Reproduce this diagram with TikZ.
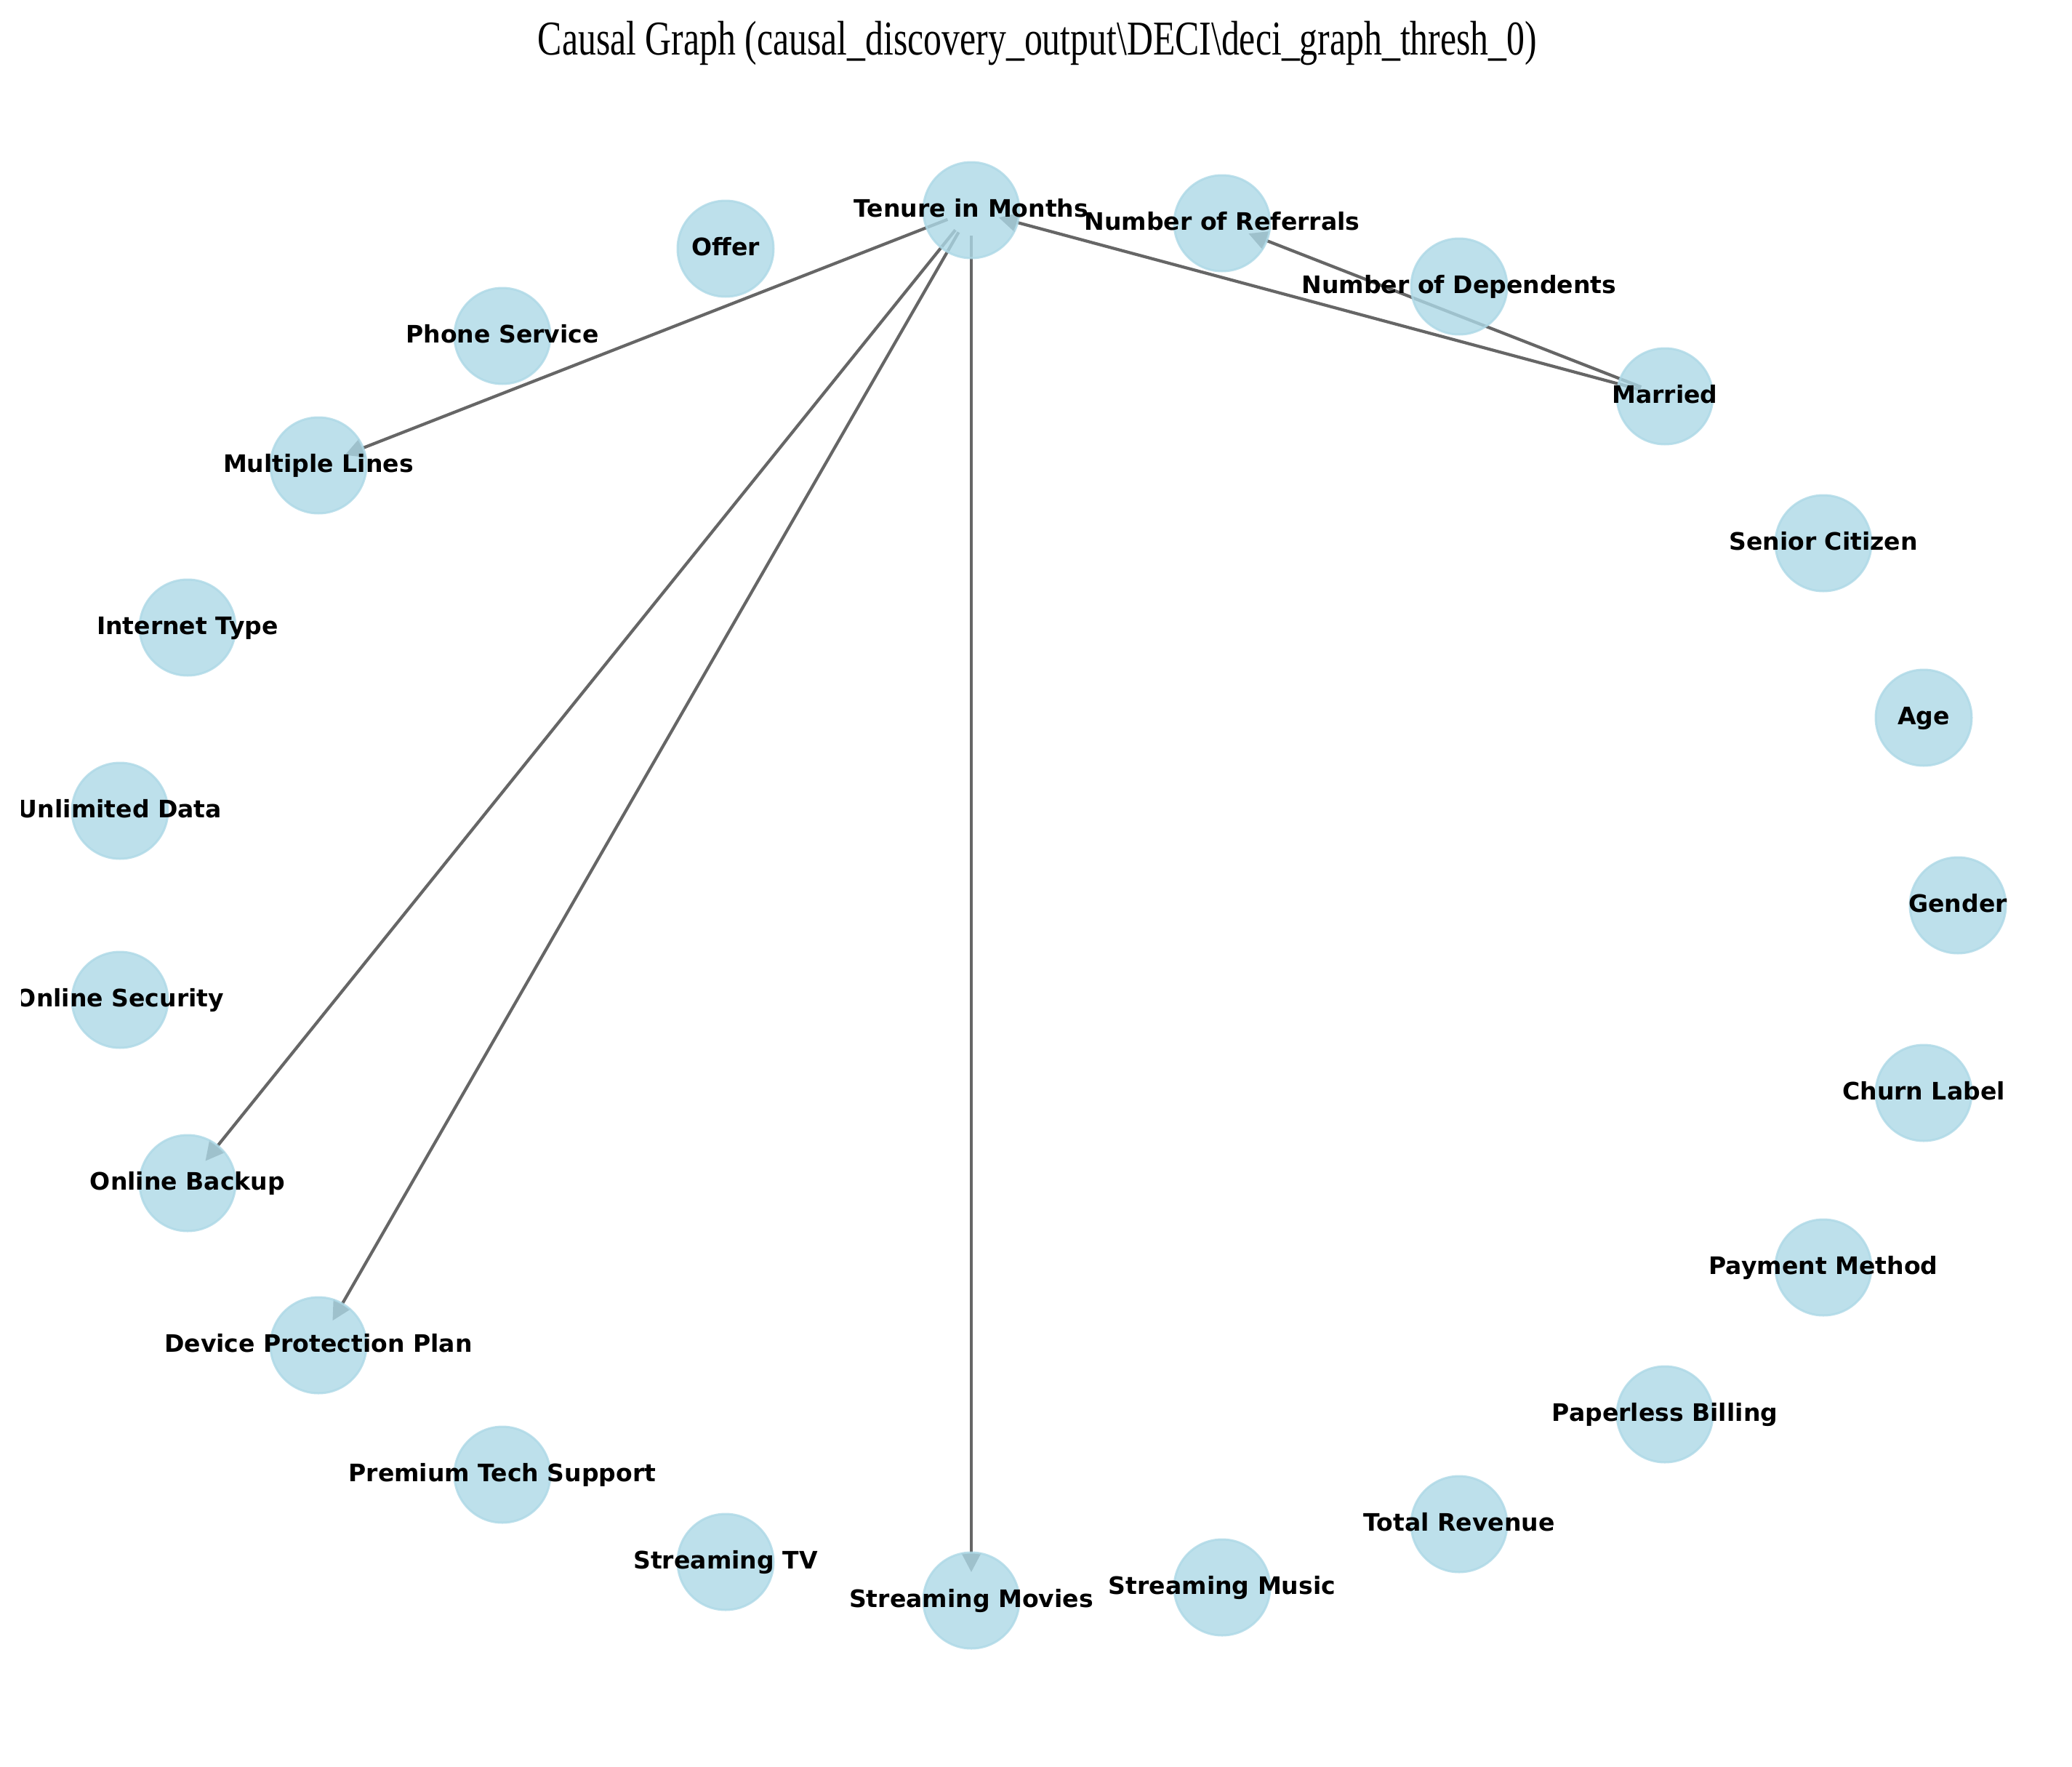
\documentclass[tikz,border=0pt]{standalone}
\usepackage{fontspec}
\usetikzlibrary{arrows.meta}
\newfontfamily\lblfont{DejaVu Sans}
\newfontfamily\ttlfont[FakeStretch=0.745]{Liberation Serif}

\newlength{\du}
\setlength{\du}{0.01cm}

\definecolor{nodeblue}{RGB}{173,216,230}
\definecolor{edgegray}{RGB}{102,102,102}

\pgfdeclarelayer{edgelayer}
\pgfsetlayers{edgelayer,main}

\tikzset{
  vnode/.style={circle, inner sep=0pt, minimum size=132\du,
    fill=nodeblue, draw=nodeblue, fill opacity=0.8, draw opacity=0.8,
    line width=3\du},
  vlabel/.style={font=\lblfont\bfseries\fontsize{9.4pt}{11pt}\selectfont,
    inner sep=0pt, text height=25\du, text depth=7\du, anchor=center},
  causaledge/.style={draw=edgegray, line width=0.042cm,
    shorten <=0.35cm, shorten >=0.39cm,
    -{Triangle[length=0.26cm,width=0.26cm]}},
  ttl/.style={font=\ttlfont\fontsize{19pt}{22pt}\selectfont,
    inner sep=0pt, anchor=base}
}

\begin{document}
\begin{tikzpicture}[yscale=-1]
\useasboundingbox (0,0) rectangle (2850\du,2430\du);

% title
\node[ttl] (title) at (1427\du,75\du)
  {Causal Graph (causal\_discovery\_output\textbackslash DECI\textbackslash deci\_graph\_thresh\_0)};

% nodes on the circle
\node[vnode] (gender) at (2693\du,1245\du) {};
\node[vnode] (age) at (2646\du,987\du) {};
\node[vnode] (senior) at (2508\du,747\du) {};
\node[vnode] (married) at (2290\du,545\du) {};
\node[vnode] (dependents) at (2007\du,394\du) {};
\node[vnode] (referrals) at (1681\du,307\du) {};
\node[vnode] (tenure) at (1336\du,289\du) {};
\node[vnode] (offer) at (998\du,342\du) {};
\node[vnode] (phone) at (691\du,462\du) {};
\node[vnode] (multilines) at (438\du,640\du) {};
\node[vnode] (internet) at (258\du,863\du) {};
\node[vnode] (unlimited) at (165\du,1115\du) {};
\node[vnode] (security) at (165\du,1375\du) {};
\node[vnode] (backup) at (258\du,1627\du) {};
\node[vnode] (protection) at (438\du,1850\du) {};
\node[vnode] (techsupport) at (691\du,2028\du) {};
\node[vnode] (streamtv) at (998\du,2148\du) {};
\node[vnode] (streammovies) at (1336\du,2201\du) {};
\node[vnode] (streammusic) at (1681\du,2183\du) {};
\node[vnode] (revenue) at (2007\du,2096\du) {};
\node[vnode] (paperless) at (2290\du,1945\du) {};
\node[vnode] (payment) at (2508\du,1743\du) {};
\node[vnode] (churn) at (2646\du,1503\du) {};

% edges, under the nodes
\begin{pgfonlayer}{edgelayer}
\draw[causaledge] (tenure.center) -- (multilines.center);
\draw[causaledge] (tenure.center) -- (backup.center);
\draw[causaledge] (tenure.center) -- (protection.center);
\draw[causaledge] (tenure.center) -- (streammovies.center);
\draw[causaledge] (married.center) -- (tenure.center);
\draw[causaledge] (married.center) -- (referrals.center);
\end{pgfonlayer}

% labels, clipped at the axes edge
\begin{scope}
\clip (29\du,0) rectangle (2821\du,2430\du);
\node[vlabel] (gender-l) at (gender.center) {Gender};
\node[vlabel] (age-l) at (age.center) {Age};
\node[vlabel] (senior-l) at (senior.center) {Senior Citizen};
\node[vlabel] (married-l) at (married.center) {Married};
\node[vlabel] (dependents-l) at (dependents.center) {Number of Dependents};
\node[vlabel] (referrals-l) at (referrals.center) {Number of Referrals};
\node[vlabel] (tenure-l) at (tenure.center) {Tenure in Months};
\node[vlabel] (offer-l) at (offer.center) {Offer};
\node[vlabel] (phone-l) at (phone.center) {Phone Service};
\node[vlabel] (multilines-l) at (multilines.center) {Multiple Lines};
\node[vlabel] (internet-l) at (internet.center) {Internet Type};
\node[vlabel] (unlimited-l) at (unlimited.center) {Unlimited Data};
\node[vlabel] (security-l) at (security.center) {Online Security};
\node[vlabel] (backup-l) at (backup.center) {Online Backup};
\node[vlabel] (protection-l) at (protection.center) {Device Protection Plan};
\node[vlabel] (techsupport-l) at (techsupport.center) {Premium Tech Support};
\node[vlabel] (streamtv-l) at (streamtv.center) {Streaming TV};
\node[vlabel] (streammovies-l) at (streammovies.center) {Streaming Movies};
\node[vlabel] (streammusic-l) at (streammusic.center) {Streaming Music};
\node[vlabel] (revenue-l) at (revenue.center) {Total Revenue};
\node[vlabel] (paperless-l) at (paperless.center) {Paperless Billing};
\node[vlabel] (payment-l) at (payment.center) {Payment Method};
\node[vlabel] (churn-l) at (churn.center) {Churn Label};
\end{scope}
\end{tikzpicture}
\end{document}
